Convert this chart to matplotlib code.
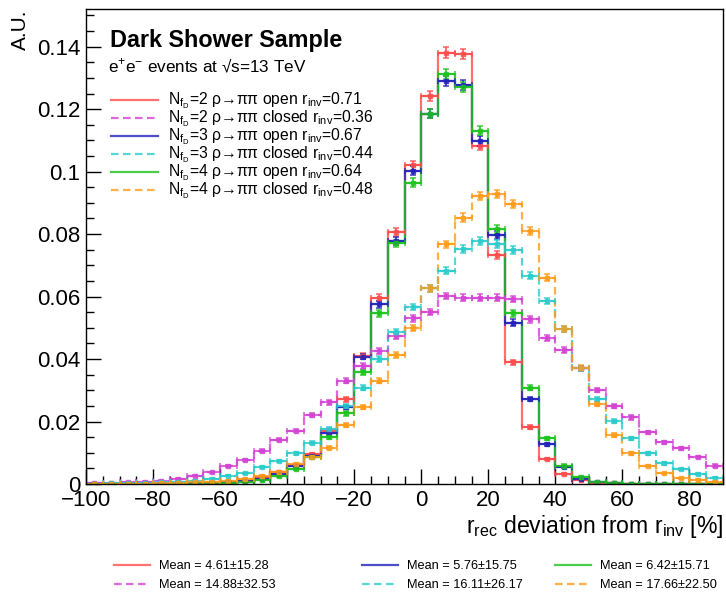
import matplotlib
matplotlib.use('Agg')
import matplotlib.pyplot as plt
import numpy as np
from matplotlib.lines import Line2D
from matplotlib.ticker import MultipleLocator, FuncFormatter

plt.rcParams['font.family'] = ['Liberation Sans', 'DejaVu Sans']
plt.rcParams['mathtext.fontset'] = 'custom'
plt.rcParams['mathtext.rm'] = 'Liberation Sans'
plt.rcParams['mathtext.it'] = 'Liberation Sans:italic'
plt.rcParams['mathtext.bf'] = 'Liberation Sans:bold'

# binning of r_rec deviation [%], 5% bins
edges = np.arange(-100, 95, 5)

# normalised histograms (A.U.)
open2 = [0.0000, 0.0000, 0.0001, 0.0001, 0.0001, 0.0002, 0.0003, 0.0004, 0.0007, 0.0011,
         0.0022, 0.0039, 0.0061, 0.0096, 0.0171, 0.0271, 0.0410, 0.0596, 0.0806, 0.1021,
         0.1242, 0.1381, 0.1376, 0.1083, 0.0733, 0.0389, 0.0183, 0.0080, 0.0032, 0.0013,
         0.0004, 0.0002, 0.0001, 0.0001, 0.0000, 0.0000, 0.0000, 0.0000]
closed2 = [0.0002, 0.0003, 0.0005, 0.0008, 0.0010, 0.0016, 0.0027, 0.0037, 0.0058, 0.0077,
           0.0106, 0.0142, 0.0171, 0.0221, 0.0261, 0.0330, 0.0378, 0.0427, 0.0474, 0.0530,
           0.0551, 0.0602, 0.0597, 0.0597, 0.0597, 0.0592, 0.0527, 0.0466, 0.0429, 0.0370,
           0.0301, 0.0250, 0.0213, 0.0165, 0.0133, 0.0114, 0.0087, 0.0059]
open3 = [0.0000, 0.0000, 0.0000, 0.0001, 0.0001, 0.0001, 0.0002, 0.0003, 0.0005, 0.0009,
         0.0017, 0.0033, 0.0058, 0.0090, 0.0162, 0.0247, 0.0408, 0.0575, 0.0779, 0.1003,
         0.1186, 0.1290, 0.1277, 0.1098, 0.0797, 0.0517, 0.0272, 0.0127, 0.0053, 0.0017,
         0.0006, 0.0002, 0.0001, 0.0000, 0.0000, 0.0000, 0.0000, 0.0000]
closed3 = [0.0001, 0.0002, 0.0002, 0.0003, 0.0005, 0.0007, 0.0011, 0.0016, 0.0027, 0.0034,
           0.0053, 0.0074, 0.0098, 0.0132, 0.0175, 0.0250, 0.0308, 0.0400, 0.0487, 0.0567,
           0.0626, 0.0683, 0.0752, 0.0777, 0.0768, 0.0750, 0.0667, 0.0586, 0.0495, 0.0370,
           0.0272, 0.0203, 0.0146, 0.0098, 0.0066, 0.0047, 0.0032, 0.0020]
open4 = [0.0000, 0.0000, 0.0000, 0.0000, 0.0001, 0.0001, 0.0001, 0.0002, 0.0004, 0.0008,
         0.0013, 0.0026, 0.0047, 0.0085, 0.0149, 0.0226, 0.0357, 0.0546, 0.0770, 0.0965,
         0.1186, 0.1312, 0.1270, 0.1131, 0.0816, 0.0546, 0.0308, 0.0146, 0.0059, 0.0023,
         0.0006, 0.0002, 0.0001, 0.0000, 0.0000, 0.0000, 0.0000, 0.0000]
closed4 = [0.0000, 0.0001, 0.0001, 0.0001, 0.0002, 0.0003, 0.0005, 0.0007, 0.0011, 0.0016,
           0.0026, 0.0039, 0.0064, 0.0087, 0.0116, 0.0189, 0.0247, 0.0330, 0.0413, 0.0500,
           0.0626, 0.0767, 0.0853, 0.0922, 0.0929, 0.0896, 0.0810, 0.0661, 0.0496, 0.0372,
           0.0256, 0.0157, 0.0098, 0.0058, 0.0034, 0.0018, 0.0013, 0.0007]

labels = [r'$\mathrm{N_{f_{D}}}$=2 ρ→ππ open $\mathrm{r_{inv}}$=0.71',
          r'$\mathrm{N_{f_{D}}}$=2 ρ→ππ closed $\mathrm{r_{inv}}$=0.36',
          r'$\mathrm{N_{f_{D}}}$=3 ρ→ππ open $\mathrm{r_{inv}}$=0.67',
          r'$\mathrm{N_{f_{D}}}$=3 ρ→ππ closed $\mathrm{r_{inv}}$=0.44',
          r'$\mathrm{N_{f_{D}}}$=4 ρ→ππ open $\mathrm{r_{inv}}$=0.64',
          r'$\mathrm{N_{f_{D}}}$=4 ρ→ππ closed $\mathrm{r_{inv}}$=0.48']
means = ['Mean = 4.61±15.28', 'Mean = 14.88±32.53', 'Mean = 5.76±15.75',
         'Mean = 16.11±26.17', 'Mean = 6.42±15.71', 'Mean = 17.66±22.50']

hists = [open2, closed2, open3, closed3, open4, closed4]
colors = ['#ff4c4c', '#d444d4', '#2222bb', '#2ccccc', '#1ec41e', '#ff9c1a']
dash = (0, (3.4, 2.0))
styles = ['-', dash, '-', dash, '-', dash]

n_events = 50000  # for the statistical error bars

W, H = 726, 594
fig = plt.figure(figsize=(W / 100, H / 100), dpi=100)
ax = fig.add_axes([86 / W, 1 - 484 / H, (723 - 86) / W, (484 - 9.5) / H])

centers = 0.5 * (edges[:-1] + edges[1:])
for vals, c, ls in zip(hists, colors, styles):
    vals = np.array(vals)
    err = np.sqrt(vals / n_events)
    ax.stairs(vals, edges, baseline=None, color=c, lw=1.6, ls=ls, alpha=0.8)
    ax.errorbar(centers, vals, xerr=2.5, yerr=err, fmt='s', ms=2.2, color=c,
                elinewidth=1.5, capsize=2, capthick=1.2, alpha=0.8)

ax.set_xlim(-100, 90)
ax.set_ylim(0, 0.1519)
ax.xaxis.set_major_locator(MultipleLocator(20))
ax.xaxis.set_minor_locator(MultipleLocator(5))
ax.yaxis.set_major_locator(MultipleLocator(0.02))
ax.yaxis.set_minor_locator(MultipleLocator(0.005))
ax.xaxis.set_major_formatter(FuncFormatter(lambda v, p: f'{v:g}'.replace('-', '\u2212')))
ax.yaxis.set_major_formatter(FuncFormatter(lambda v, p: f'{v:.2f}'.rstrip('0').rstrip('.')))
ax.tick_params(which='major', direction='in', length=11, width=1, labelsize=16, pad=4)
ax.tick_params(which='minor', direction='in', length=6, width=1)
for s in ax.spines.values():
    s.set_linewidth(1)

ax.set_xlabel(r'$\mathrm{r_{rec}}$ deviation from $\mathrm{r_{inv}}$ [%]', fontsize=16.6,
              loc='right', labelpad=2)
fig.text(20 / W, 1 - 9 / H, 'A.U.', rotation=90, ha='center', va='top', fontsize=15)

# title block
fig.text(110 / W, 1 - 47 / H, 'Dark Shower Sample', fontsize=16.8, fontweight='bold',
         ha='left', va='baseline')
fig.text(108 / W, 1 - 72 / H, r'e$^{+}$e$^{-}$ events at √s=13 TeV', fontsize=12.3,
         ha='left', va='baseline')

# sample legend
for k, (lab, c, ls) in enumerate(zip(labels, colors, styles)):
    y = 1 - (100 + 18 * k) / H
    fig.add_artist(Line2D([111 / W, 158 / W], [y, y], color=c, lw=1.6, ls=ls, alpha=0.8))
    fig.text(168 / W, y - 4.5 / H, lab, fontsize=11.3, ha='left', va='baseline')

# mean / rms legend below the frame
col_x = [114, 362, 555]
for k, (m, c, ls) in enumerate(zip(means, colors, styles)):
    col, row = k // 2, k % 2
    x0 = col_x[col] / W
    y = 1 - (565 + 19 * row) / H
    fig.add_artist(Line2D([x0, x0 + 36 / W], [y, y], color=c, lw=1.6, ls=ls, alpha=0.8))
    fig.text(x0 + 45 / W, y - 4 / H, m, fontsize=9.2, ha='left', va='baseline')

fig.savefig('out.png', dpi=100)
